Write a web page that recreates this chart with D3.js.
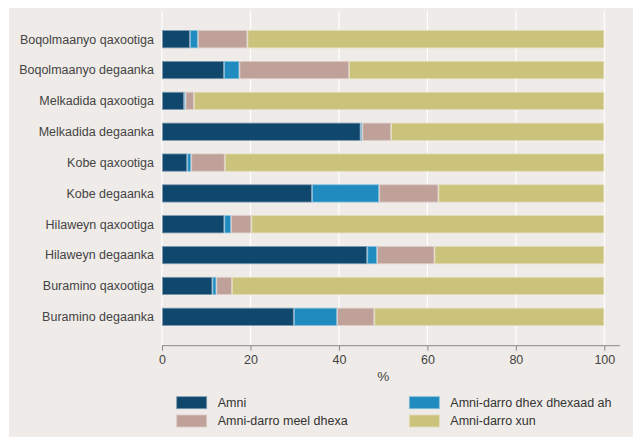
<!DOCTYPE html>
<html><head><meta charset="utf-8">
<script src="https://cdn.jsdelivr.net/npm/d3@7"></script>
<style>body{margin:0;background:#fff}svg{display:block}text{font-family:"Liberation Sans",Arial,sans-serif}</style>
</head><body>
<svg id="c" width="633" height="437"></svg>
<script>
const categories = ["Boqolmaanyo qaxootiga","Boqolmaanyo degaanka","Melkadida qaxootiga","Melkadida degaanka","Kobe qaxootiga","Kobe degaanka","Hilaweyn qaxootiga","Hilaweyn degaanka","Buramino qaxootiga","Buramino degaanka"];
const seriesNames = ["Amni","Amni-darro dhex dhexaad ah","Amni-darro meel dhexa","Amni-darro xun"];
const amni =        [6.3, 14.0, 5.0, 44.9, 5.7, 33.9, 14.1, 46.4, 11.4, 29.8];
const dhexdhexaad = [1.8,  3.5, 0.3,  0.4, 0.9, 15.2,  1.5,  2.2,  0.9,  9.8];
const meelDhexa =   [11.2, 24.8, 1.9, 6.5, 7.6, 13.4,  4.6, 13.0,  3.5,  8.4];
const xun =         [80.7, 57.7, 92.8, 48.2, 85.8, 37.5, 79.8, 38.4, 84.2, 52.0];
const xTicks = [0,20,40,60,80,100];
const colors = ["#10476d","#1f8bbf","#bfa19a","#cbc27c"];

const svg = d3.select("#c");
svg.append("rect").attr("x",9).attr("y",8).attr("width",624).attr("height",429).attr("fill","#efebe8");

const x = d3.scaleLinear().domain([0,100]).range([162,604.3]);
const y = d3.scaleBand().domain(categories).range([17,339]).paddingInner(0.44).paddingOuter(0.44);

// gridlines
svg.append("g").selectAll("line").data(xTicks).join("line")
  .attr("x1",d=>x(d)).attr("x2",d=>x(d)).attr("y1",11).attr("y2",345.5)
  .attr("stroke","#fff").attr("stroke-width",1.2);

const rows = categories.map((c,i)=>({cat:c, vals:[amni[i],dhexdhexaad[i],meelDhexa[i],xun[i]]}));
const segs = [];
rows.forEach(r=>{let acc=0; r.vals.forEach((v,k)=>{segs.push({cat:r.cat,k,x0:acc,x1:acc+v}); acc+=v;});});

svg.append("g").selectAll("rect").data(segs).join("rect")
  .attr("x",d=>x(d.x0)+0.5)
  .attr("width",d=>Math.max(0.3,x(d.x1)-x(d.x0)-1))
  .attr("y",d=>y(d.cat))
  .attr("height",y.bandwidth())
  .attr("fill",d=>colors[d.k])
  .attr("stroke",d=>d3.interpolateRgb(colors[d.k],"#ffffff")(0.45))
  .attr("stroke-width",0.8);

// category labels
svg.append("g").selectAll("text").data(categories).join("text")
  .attr("x",154).attr("y",d=>y(d)+y.bandwidth()/2).attr("dy","0.35em")
  .attr("text-anchor","end").attr("font-size",12.5).attr("fill","#444").text(d=>d);

// x axis
const ax = svg.append("g").attr("transform","translate(0,345.7)")
  .call(d3.axisBottom(x).tickValues(xTicks).tickSize(5).tickPadding(4).tickFormat(d3.format("d")));
ax.select(".domain").attr("d","M162,0H620").attr("stroke","#888");
ax.selectAll(".tick line").attr("stroke","#888");
ax.selectAll(".tick text").attr("font-size",12.5).attr("fill","#444").attr("font-family","Liberation Sans,Arial,sans-serif");

svg.append("text").attr("x",(x(0)+x(100))/2).attr("y",381).attr("text-anchor","middle")
  .attr("font-size",13.5).attr("fill","#444").text("%");

// legend: Amni (left top), dhex dhexaad (right top), meel dhexa (left bottom), xun (right bottom)
const legPos = [[176.7,396.7],[409.3,396.7],[176.7,415],[409.3,415]];
const legendItems = seriesNames.map((n,k)=>({k, name:n, p:legPos[k]}));
const lg = svg.append("g").selectAll("g").data(legendItems).join("g")
  .attr("transform",d=>`translate(${d.p[0]},${d.p[1]})`);
lg.append("rect").attr("width",30).attr("height",12)
  .attr("fill",d=>colors[d.k])
  .attr("stroke",d=>d3.interpolateRgb(colors[d.k],"#ffffff")(0.45)).attr("stroke-width",0.8);
lg.append("text").attr("x",41).attr("y",6).attr("dy","0.35em").attr("font-size",12.5).attr("fill","#333").text(d=>d.name);
</script>
</body></html>
